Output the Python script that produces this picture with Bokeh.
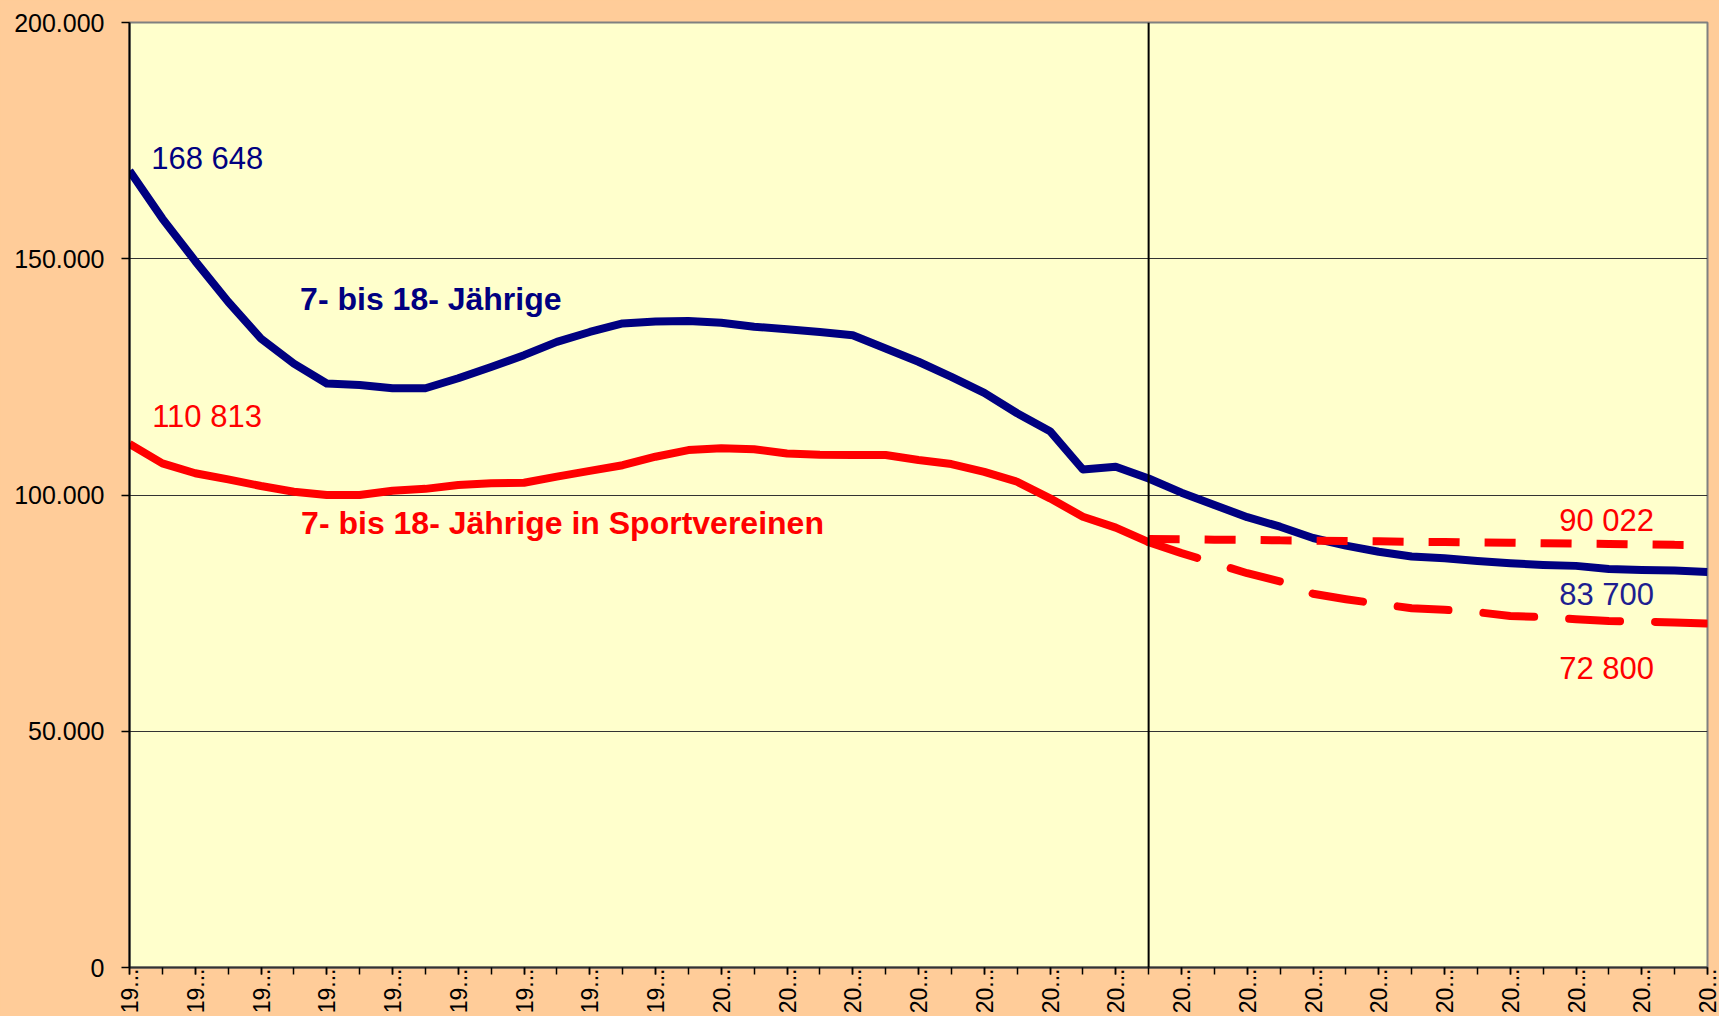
from math import pi
from bokeh.plotting import figure
from bokeh.models import Range1d, FixedTicker, Span, Label
from bokeh.embed import file_html
from bokeh.resources import INLINE

# ---------------- data ----------------
years = [1982, 1983, 1984, 1985, 1986, 1987, 1988, 1989, 1990, 1991,
         1992, 1993, 1994, 1995, 1996, 1997, 1998, 1999, 2000, 2001,
         2002, 2003, 2004, 2005, 2006, 2007, 2008, 2009, 2010, 2011,
         2012, 2013, 2014, 2015, 2016, 2017, 2018, 2019, 2020, 2021,
         2022, 2023, 2024, 2025, 2026, 2027, 2028, 2029, 2030]

# 7- bis 18-Jährige (Bevölkerung)
youth = [168648, 158500, 149500, 140900, 133100, 127800, 123600, 123300, 122600, 122600,
         124700, 127100, 129600, 132400, 134500, 136300, 136700, 136850, 136450, 135600,
         135100, 134500, 133800, 131000, 128200, 125000, 121600, 117300, 113500, 105400,
         106000, 103500, 100500, 97900, 95300, 93300, 90900, 89300, 88000, 87000,
         86600, 86050, 85550, 85200, 85000, 84350, 84150, 84000, 83700]

# 7- bis 18-Jährige in Sportvereinen (Ist-Werte bis 2013)
club_actual = [110813, 106700, 104600, 103300, 101900, 100700, 100000, 100000, 100900, 101300,
               102100, 102500, 102600, 103900, 105100, 106300, 108100, 109500, 109900, 109700,
               108800, 108500, 108450, 108450, 107400, 106550, 104900, 102800, 99300, 95400,
               93100, 90022]

# Projektionen ab 2013
proj_years = years[31:]
club_proj_const = [90700, 90650, 90550, 90500, 90400, 90350, 90250, 90200, 90100, 90050,
                   89950, 89900, 89800, 89700, 89650, 89550, 89450, 89400]
club_proj_trend = [90022, 87700, 85600, 83450, 81700, 79100, 77950, 76950, 76050, 75700,
                   75200, 74400, 74150, 73700, 73350, 73200, 73000, 72800]

y_ticks = [0, 50000, 100000, 150000, 200000]
y_tick_labels = ["0", "50.000", "100.000", "150.000", "200.000"]
label_years = years[::2]
x_tick_labels = [str(y)[:2] + "..." for y in label_years]
split_year = 2013

series_label_youth = "7- bis 18- Jährige"
series_label_club = "7- bis 18- Jährige in Sportvereinen"

NAVY = "#000080"
RED = "#FF0000"
FONT = "Liberation Sans"

# ---------------- figure ----------------
p = figure(width=1719, height=1016,
           x_range=Range1d(1982, 2030), y_range=Range1d(0, 200000),
           output_backend="svg", toolbar_location=None,
           min_border_left=129, min_border_right=12,
           min_border_top=22, min_border_bottom=48)

p.background_fill_color = "#FFFFCC"
p.border_fill_color = "#FFCC99"
p.outline_line_color = "#808080"
p.outline_line_width = 2

p.xgrid.visible = False
p.ygrid.ticker = FixedTicker(ticks=y_ticks)
p.ygrid.grid_line_color = "#333333"
p.ygrid.grid_line_width = 1

# y axis
yax = p.yaxis[0]
yax.ticker = FixedTicker(ticks=y_ticks)
yax.major_label_overrides = dict(zip(y_ticks, y_tick_labels))
yax.major_label_text_font = FONT
yax.major_label_text_font_size = "25px"
yax.major_label_text_color = "black"
yax.major_tick_in = 0
yax.major_tick_out = 8
yax.minor_tick_line_color = None
yax.axis_line_color = "black"
yax.axis_line_width = 2
yax.major_tick_line_color = "black"
yax.major_tick_line_width = 1.5
yax.major_label_standoff = 17

# x axis
xax = p.xaxis[0]
xax.ticker = FixedTicker(ticks=label_years, minor_ticks=years)
xax.major_label_overrides = dict(zip(label_years, x_tick_labels))
xax.major_label_orientation = pi / 2
xax.major_label_text_font = FONT
xax.major_label_text_font_size = "23px"
xax.major_label_text_color = "black"
xax.major_label_standoff = -6
xax.major_tick_in = 0
xax.major_tick_out = 7
xax.minor_tick_in = 0
xax.minor_tick_out = 7
xax.axis_line_color = "#333333"
xax.axis_line_width = 2
xax.major_tick_line_color = "black"
xax.minor_tick_line_color = "black"
xax.major_tick_line_width = 1.5
xax.minor_tick_line_width = 1.5

# ---------------- lines ----------------
p.line(years, youth, line_color=NAVY, line_width=8, line_join="round")
p.line(years[:32], club_actual, line_color=RED, line_width=8, line_join="round")
p.line(proj_years, club_proj_const, line_color=RED, line_width=8,
       line_dash="31 25", line_cap="butt")
p.line(proj_years, club_proj_trend, line_color=RED, line_width=8,
       line_dash="51 35", line_cap="round", line_join="round")

p.add_layout(Span(location=split_year, dimension="height",
                  line_color="black", line_width=2))

# ---------------- annotations ----------------
def lab(x, y, text, color, size, bold=False):
    p.add_layout(Label(x=x, y=y, text=text, text_color=color,
                       text_font=FONT, text_font_size=size,
                       text_font_style="bold" if bold else "normal",
                       text_align="left", text_baseline="alphabetic"))

lab(1982.66, 171200, f"{youth[0]:,}".replace(",", " "), NAVY, "31px")
lab(1987.19, 141400, series_label_youth, NAVY, "32px", bold=True)
lab(1982.69, 116600, f"{club_actual[0]:,}".replace(",", " "), RED, "31px")
lab(1987.22, 94000, series_label_club, RED, "32px", bold=True)
lab(2025.49, 94500, f"{club_actual[-1]:,}".replace(",", " "), RED, "31px")
lab(2025.49, 78900, f"{youth[-1]:,}".replace(",", " "), "#1E1E90", "31px")
lab(2025.49, 63200, f"{club_proj_trend[-1]:,}".replace(",", " "), RED, "31px")

html = file_html(p, INLINE, title="7- bis 18-Jährige")
html = html.replace("<head>", "<head><style>html,body{background:#FFCC99;}</style>", 1)
with open("out.html", "w") as f:
    f.write(html)
